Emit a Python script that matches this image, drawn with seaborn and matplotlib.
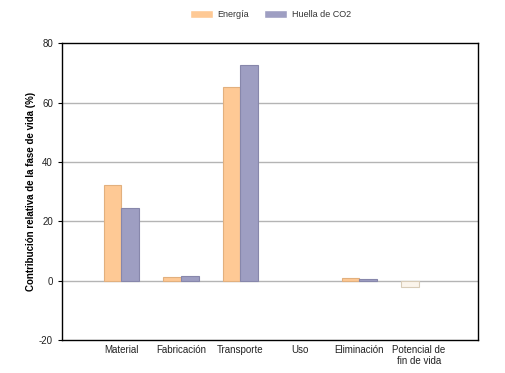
import matplotlib
matplotlib.use("Agg")
import matplotlib.pyplot as plt
import pandas as pd
import seaborn as sns

# data
phases = ["Material", "Fabricación", "Transporte", "Uso", "Eliminación", "Potencial de\nfin de vida"]
energia = [32.3, 1.4, 65.4, 0.0, 0.8, -2.0]
huella_co2 = [24.5, 1.7, 72.7, 0.0, 0.7, 0.0]
series_names = ["Energía", "Huella de CO2"]
colors = ["#fec995", "#9e9ec2"]
edges = ["#e2b07e", "#8787ab"]

df = pd.DataFrame({
    "fase": phases * 2,
    "valor": energia + huella_co2,
    "serie": [series_names[0]] * len(phases) + [series_names[1]] * len(phases),
})

sns.set_style("white")
plt.rcParams["font.family"] = ["Liberation Sans", "DejaVu Sans"]
plt.rcParams["axes.unicode_minus"] = False

fig = plt.figure(figsize=(5.06, 3.73), dpi=100)
ax = fig.add_axes([0.1225, 0.0885, 0.823, 0.795])

for y in [0, 20, 40, 60]:
    ax.axhline(y, color="#b4b4b4", lw=1.0, zorder=0)

sns.barplot(ax=ax, data=df, x="fase", y="valor", hue="serie", order=phases,
            hue_order=series_names, palette=colors, width=0.6, saturation=1,
            errorbar=None, zorder=2)

for cont, ec in zip(ax.containers, edges):
    for bar in cont:
        bar.set_edgecolor(ec)
        bar.set_linewidth(0.8)
        if bar.get_height() == 0:
            bar.set_visible(False)

# end-of-life credit bar drawn faded
last = ax.containers[0][len(phases) - 1]
last.set_facecolor("#fbf5ec")
last.set_edgecolor("#d8ccb8")

ax.set_xlim(-1, 6)
ax.set_ylim(-20, 80)
ax.set_yticks([-20, 0, 20, 40, 60, 80])
ax.set_xlabel("")
ax.set_ylabel("Contribución relativa de la fase de vida (%)", fontsize=7, fontweight="bold",
              color="black", labelpad=2)
ax.tick_params(axis="y", labelsize=7, length=3, width=0.8, color="black", left=True,
               direction="out", labelcolor="#222222")
ax.tick_params(axis="x", labelsize=7, length=0, labelcolor="#222222")
for s in ax.spines.values():
    s.set_color("black")
    s.set_linewidth(1.0)

handles, labels = ax.get_legend_handles_labels()
leg = ax.legend(handles, labels, loc="lower center", bbox_to_anchor=(0.5, 1.055), ncol=2,
                frameon=False, fontsize=6.5, handlelength=2.6, handleheight=0.9,
                columnspacing=1.6, handletextpad=0.5)
for t in leg.get_texts():
    t.set_color("#333333")

fig.savefig("out.png", dpi=100)
